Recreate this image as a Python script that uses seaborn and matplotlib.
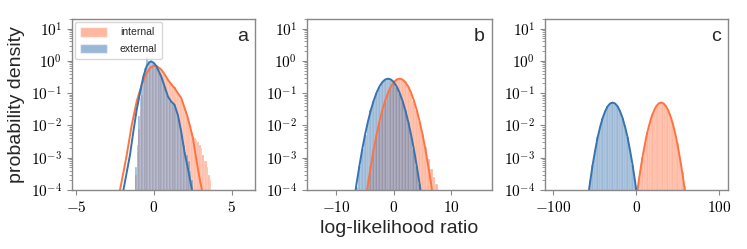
import numpy as np
import matplotlib
matplotlib.use('Agg')
import matplotlib.pyplot as plt
import matplotlib.patches as mpatches
from matplotlib.ticker import FuncFormatter, LogLocator, FixedLocator
import seaborn as sns

#%% data

# panel a -- histogram bins (width 0.1) and density per bin
a_width = 0.1
a_ext_centers = np.round(np.arange(-1.15, 2.5, 0.1), 2)
a_ext_hist = [5e-4, 2.5e-3, 0.02, 0.07, 0.17, 0.35, 0.6, 1.3, 1.0, 0.95,
              0.9, 0.85, 0.75, 0.65, 0.52, 0.42, 0.33, 0.24, 0.18, 0.12,
              0.085, 0.07, 0.058, 0.05, 0.045, 0.04, 0.03, 0.02, 0.012, 0.008,
              0.004, 0.0025, 0.0015, 0.0012, 8e-4, 4e-4, 2e-4]
a_int_centers = np.round(np.arange(-1.15, 3.7, 0.1), 2)
a_int_hist = [3e-4, 1.5e-3, 0.008, 0.03, 0.09, 0.18, 0.3, 0.45, 0.55, 0.62,
              0.7, 0.72, 0.7, 0.66, 0.62, 0.57, 0.52, 0.5, 0.42, 0.36,
              0.3, 0.26, 0.22, 0.2, 0.17, 0.15, 0.13, 0.1, 0.08, 0.065,
              0.05, 0.04, 0.028, 0.02, 0.013, 0.009, 0.006, 0.0045, 0.004, 0.0035,
              0.003, 0.0025, 0.002, 0.0012, 8e-4, 8e-4, 5e-4, 3e-4, 2e-4]

# panel a -- density curves
a_ext_x = [-2.10, -1.95, -1.53, -1.31, -1.10, -0.87, -0.67, -0.46, -0.30, -0.18,
           0.00, 0.18, 0.35, 0.48, 0.70, 0.91, 1.12, 1.33, 1.55, 1.76,
           1.97, 2.19, 2.45, 2.60]
a_ext_y = [2.5e-5, 1.0e-4, 1.2e-3, 6.5e-3, 0.030, 0.11, 0.33, 0.68, 0.89, 0.97,
           0.87, 0.68, 0.44, 0.33, 0.16, 0.079, 0.055, 0.044, 0.021, 6.5e-3,
           1.5e-3, 4.7e-4, 1.0e-4, 3e-5]
a_int_x = [-2.35, -2.17, -1.95, -1.74, -1.42, -1.10, -0.78, -0.46, -0.20, 0.00,
           0.20, 0.48, 0.70, 0.91, 1.12, 1.33, 1.55, 1.76, 1.98, 2.19,
           2.35, 2.51, 2.72, 2.94, 3.09, 3.25]
a_int_y = [2.5e-5, 1.0e-4, 3.5e-4, 1.2e-3, 0.010, 0.055, 0.18, 0.42, 0.63, 0.71,
           0.68, 0.54, 0.38, 0.26, 0.19, 0.145, 0.10, 0.071, 0.035, 0.017,
           8.5e-3, 4.1e-3, 9.5e-4, 2.3e-4, 1.0e-4, 3e-5]

# panel b -- histogram bins (width 0.5)
b_width = 0.5
b_ext_centers = np.arange(-6.5, 4.75, 0.5)
b_ext_hist = [1.2e-4, 5.4e-4, 1.8e-3, 5.2e-3, 0.013, 0.030, 0.059, 0.10, 0.16, 0.22,
              0.265, 0.28, 0.265, 0.22, 0.16, 0.10, 0.059, 0.030, 0.013, 5.2e-3,
              1.8e-3, 5.4e-4, 1.5e-4]
b_int_centers = np.arange(-4.5, 7.75, 0.5)
b_int_hist = [1.5e-4, 5.4e-4, 1.8e-3, 5.2e-3, 0.013, 0.030, 0.059, 0.10, 0.16, 0.22,
              0.265, 0.28, 0.265, 0.22, 0.16, 0.10, 0.059, 0.030, 0.013, 5.5e-3,
              2.2e-3, 9e-4, 4.5e-4, 2.5e-4, 1.5e-4]

# panel b -- density curves
b_ext_x = np.arange(-7.0, 5.25, 0.5)
b_int_x = np.arange(-5.0, 7.25, 0.5)
b_curve_y = [3.5e-5, 1.5e-4, 5.4e-4, 1.8e-3, 5.2e-3, 0.0132, 0.0297, 0.059, 0.104, 0.161,
             0.22, 0.265, 0.282, 0.265, 0.22, 0.161, 0.104, 0.059, 0.0297, 0.0132,
             5.2e-3, 1.8e-3, 5.4e-4, 1.5e-4, 3.5e-5]

# panel c -- histogram bins (width 3)
c_width = 3.0
c_ext_centers = np.arange(-55.5, 0, 3.0)
c_ext_hist = [1.9e-4, 6.1e-4, 1.7e-3, 4.3e-3, 9.1e-3, 0.017, 0.0275, 0.039, 0.048, 0.051,
              0.048, 0.039, 0.0275, 0.017, 9.1e-3, 4.3e-3, 1.7e-3, 6.1e-4, 1.9e-4]
c_int_centers = np.arange(1.5, 60, 3.0)
c_int_hist = [1.3e-4, 3.5e-4, 1.05e-3, 2.8e-3, 6.3e-3, 0.0126, 0.022, 0.033, 0.044, 0.050,
              0.050, 0.044, 0.033, 0.022, 0.0126, 6.3e-3, 2.8e-3, 1.05e-3, 3.5e-4, 1.3e-4]

# panel c -- density curves
c_ext_x = np.arange(-61.5, 6.0, 3.0)
c_int_x = np.arange(-3.0, 64.0, 3.0)
c_curve_y = [1.2e-5, 5e-5, 1.9e-4, 6.1e-4, 1.7e-3, 4.3e-3, 9.1e-3, 0.017, 0.0275, 0.039,
             0.048, 0.051, 0.048, 0.039, 0.0275, 0.017, 9.1e-3, 4.3e-3, 1.7e-3, 6.1e-4,
             1.9e-4, 5e-5, 1.2e-5]

INT_COLOR = '#ff7341'
EXT_COLOR = '#3773af'

#%% style

sns.set_style('ticks')
plt.rcParams['font.family'] = ['Liberation Sans', 'DejaVu Sans']
plt.rcParams['mathtext.fontset'] = 'cm'
plt.rcParams['mathtext.default'] = 'rm'
plt.rcParams['axes.edgecolor'] = '#888888'
plt.rcParams['xtick.color'] = '#888888'
plt.rcParams['ytick.color'] = '#888888'
plt.rcParams['xtick.labelcolor'] = 'black'
plt.rcParams['ytick.labelcolor'] = 'black'


def draw_hist(ax, centers, heights, width, color):
    n = len(centers)
    lo = centers[0] - width / 2
    sns.histplot(x=centers, weights=heights, bins=n, binrange=(lo, lo + n * width),
                 color=color, alpha=0.5, edgecolor='white', linewidth=0.15, ax=ax)


def draw_curve(ax, x, y, color):
    sns.lineplot(x=x, y=y, color=color, linewidth=1.4, ax=ax)


def finish(ax, xlim, xticks, letter):
    ax.set_yscale('log')
    ax.set_ylim(1e-4, 20)
    ax.set_xlim(*xlim)
    ax.xaxis.set_major_locator(FixedLocator(xticks))
    ax.xaxis.set_major_formatter(FuncFormatter(lambda v, p: r'$%d$' % v))
    ax.yaxis.set_major_locator(LogLocator(base=10, numticks=10))
    ax.yaxis.set_major_formatter(FuncFormatter(lambda v, p: r'$10^{%d}$' % round(np.log10(v))))
    ax.yaxis.set_minor_locator(LogLocator(base=10, subs=np.arange(2, 10), numticks=20))
    ax.tick_params(axis='both', which='major', labelsize=11, length=3.5, width=0.8)
    ax.tick_params(axis='y', which='minor', length=2, width=0.6)
    ax.set_ylabel('')
    ax.set_xlabel('')
    for s in ax.spines.values():
        s.set_linewidth(1.0)
    ax.text(0.96, 0.9, letter, transform=ax.transAxes, ha='right', va='center',
            fontsize=14)


#%% figure

fig = plt.figure(figsize=(7.47, 2.49), dpi=100)
ax_a = fig.add_axes([0.0964, 0.237, 0.245, 0.687])
ax_b = fig.add_axes([0.411, 0.237, 0.247, 0.687])
ax_c = fig.add_axes([0.7296, 0.237, 0.2454, 0.687])

draw_hist(ax_a, a_int_centers, a_int_hist, a_width, INT_COLOR)
draw_hist(ax_a, a_ext_centers, a_ext_hist, a_width, EXT_COLOR)
draw_curve(ax_a, a_int_x, a_int_y, INT_COLOR)
draw_curve(ax_a, a_ext_x, a_ext_y, EXT_COLOR)
finish(ax_a, (-5.25, 6.5), [-5, 0, 5], 'a')

draw_hist(ax_b, b_int_centers, b_int_hist, b_width, INT_COLOR)
draw_hist(ax_b, b_ext_centers, b_ext_hist, b_width, EXT_COLOR)
draw_curve(ax_b, b_int_x, b_curve_y, INT_COLOR)
draw_curve(ax_b, b_ext_x, b_curve_y, EXT_COLOR)
finish(ax_b, (-15.1, 17.0), [-10, 0, 10], 'b')

draw_hist(ax_c, c_int_centers, c_int_hist, c_width, INT_COLOR)
draw_hist(ax_c, c_ext_centers, c_ext_hist, c_width, EXT_COLOR)
draw_curve(ax_c, c_int_x, c_curve_y, INT_COLOR)
draw_curve(ax_c, c_ext_x, c_curve_y, EXT_COLOR)
finish(ax_c, (-110, 111), [-100, 0, 100], 'c')

ax_a.set_ylabel('probability density', fontsize=14)
ax_b.set_xlabel('log-likelihood ratio', fontsize=14)

handles = [mpatches.Patch(facecolor=INT_COLOR, alpha=0.5, label='internal'),
           mpatches.Patch(facecolor=EXT_COLOR, alpha=0.5, label='external')]
ax_a.legend(handles=handles, loc='upper left', fontsize=7.5, handlelength=2.6,
            handleheight=1.0, borderpad=0.5, labelspacing=0.6, handletextpad=1.2,
            borderaxespad=0.3)

fig.savefig('out.png', dpi=100)
